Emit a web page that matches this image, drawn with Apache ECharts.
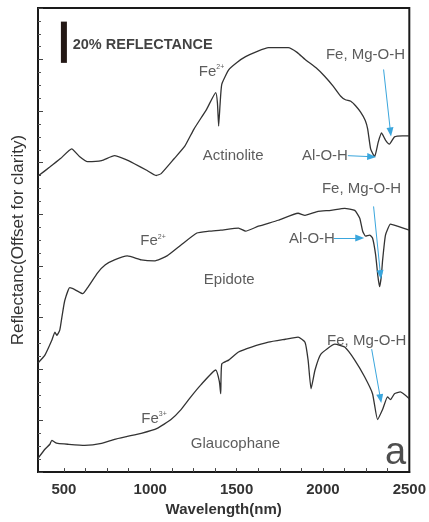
<!DOCTYPE html>
<html>
<head>
<meta charset="utf-8">
<script src="https://cdn.jsdelivr.net/npm/echarts@6/dist/echarts.min.js"></script>
<style>
  html, body { margin: 0; padding: 0; background: #fff; }
  #chart { width: 429px; height: 522px; }
</style>
</head>
<body>
<div id="chart"></div>
<script>
// Reflectance spectra, stacked with vertical offsets (units: % reflectance)
const actinolite = [
  [350,143.5],[420,148],[480,152],[545,156.7],[590,153],[637,150.5],[718,151],[793,153.4],
  [860,151.5],[908,149.5],[982,146.2],[1034,143.8],[1063,144.7],[1138,151.9],[1200,158],
  [1253,166.3],[1327,176],[1379,184],[1389,179],[1396,167.8],[1404,178],[1414,188],
  [1454,195],[1500,198.5],[1552,201.4],[1620,204],[1684,205.8],[1799,205.8],[1850,203.5],
  [1897,200],[1960,196],[2011,191.8],[2060,187],[2103,182.2],[2130,180.5],[2161,179.8],
  [2190,177.5],[2218,174.5],[2245,170.5],[2259,166.3],[2276,156.7],[2299,152.9],
  [2320,160],[2339,164.4],[2362,161],[2385,159],[2414,162.5],[2460,163],[2500,163]
];
const epidote = [
  [350,52.9],[390,56.7],[430,63.9],[448,67.8],[459,66.3],[476,68.8],[490,76],[505,83.2],
  [534,89.4],[563,88.5],[609,86.5],[637,89.4],[695,96.6],[740,100.5],[793,102.9],[867,104.8],
  [948,102.9],[1023,102.4],[1097,104.8],[1178,110.1],[1270,115.9],[1340,116.8],[1408,117.3],
  [1511,118.3],[1552,116.8],[1626,119.2],[1741,122.1],[1856,125.5],[1896,124.5],[1971,126.4],
  [2046,126.9],[2126,127.9],[2184,126.9],[2213,123.1],[2230,116.8],[2247,114.4],[2270,114.9],
  [2287,113.5],[2305,105.3],[2318,95],[2328,89.9],[2338,95],[2345,102.4],[2362,114.9],
  [2391,120.2],[2431,119.2],[2500,117.3]
];
const glaucophane = [
  [350,6.7],[390,11.1],[419,13.5],[430,15.4],[448,14.4],[465,13.9],[522,13.5],[620,13],
  [718,13.9],[793,15.9],[867,17.3],[948,18.8],[1040,21.2],[1120,25.5],[1178,30.3],[1235,36.5],
  [1293,42.3],[1379,49.5],[1400,44],[1408,38],[1414,52.4],[1454,54.3],[1511,58.2],[1586,60.6],
  [1684,63],[1782,64.4],[1856,65.4],[1896,63],[1914,54.3],[1931,40.4],[1954,49.5],[1988,57.2],
  [2069,62],[2126,60.6],[2184,54.3],[2241,46.2],[2287,38],[2316,25.5],[2345,30.3],[2374,36.5],
  [2391,35.1],[2414,38],[2448,38.9],[2500,35.6]
];

// Axis ticks and labels
const wavelengthLabels = [500, 1000, 1500, 2000, 2500];
const wavelengthTicks = [500, 625, 750, 875, 1000, 1125, 1250, 1375, 1500, 1625, 1750, 1875,
  2000, 2125, 2250, 2375];

// 20% reflectance scale bar
const scaleBar = [[500, 198.4], [500, 218.4]];

// Annotation text: [wavelength, reflectance, text]
const notes = [
  [551, 207.2, '{bold|20% REFLECTANCE}'],
  [1281, 194.2, '{n|Fe}{sup|2+}'],
  [1304, 153.4, 'Actinolite'],
  [2017, 202.4, 'Fe, Mg-O-H'],
  [1879, 153.4, 'Al-O-H'],
  [942, 112, '{n|Fe}{sup|2+}'],
  [1310, 93.3, 'Epidote'],
  [1994, 137.5, 'Fe, Mg-O-H'],
  [1804, 113, 'Al-O-H'],
  [948, 26, '{n|Fe}{sup|3+}'],
  [1235, 13.9, 'Glaucophane'],
  [2024, 63.5, 'Fe, Mg-O-H']
];

// Arrows pointing to absorption features: [x1, y1, x2, y2]
const arrows = [
  [2351, 195.2, 2391, 164.9],
  [2144, 153.4, 2282, 152.9],
  [2293, 128.8, 2333, 95.7],
  [2063, 113.5, 2213, 113.5],
  [2282, 59.6, 2333, 35.6]
];

const panelTag = [2420, 9, 'a'];

const FONT = '"Liberation Sans", Arial, sans-serif';
const INK = '#333';

const chart = echarts.init(document.getElementById('chart'), null, { renderer: 'canvas' });

function spectrum(name, data) {
  return {
    name, type: 'line', data, symbol: 'none', smooth: 0.15,
    lineStyle: { color: INK, width: 1.3 }, silent: true, z: 3
  };
}

chart.setOption({
  animation: false,
  backgroundColor: '#fff',
  grid: {
    left: 38, right: 17, top: 8, bottom: 46,
    show: true, borderColor: '#1a1a1a', borderWidth: 2
  },
  xAxis: {
    type: 'value', min: 350, max: 2500,
    name: 'Wavelength(nm)', nameLocation: 'middle', nameGap: 27,
    nameTextStyle: { fontFamily: FONT, fontSize: 15, fontWeight: 'bold', color: INK },
    axisLine: { show: true, lineStyle: { color: '#1a1a1a', width: 2 } },
    axisTick: { show: true, inside: true, length: 4, lineStyle: { color: '#444', width: 1 },
      customValues: wavelengthTicks },
    axisLabel: { customValues: wavelengthLabels, margin: 10, formatter: v => String(v),
      fontFamily: FONT, fontSize: 15, fontWeight: 'bold', color: INK },
    splitLine: { show: false }
  },
  yAxis: {
    type: 'value', min: 0, max: 225, interval: 25,
    name: 'Reflectanc(Offset for clarity)', nameLocation: 'middle', nameGap: 11,
    nameTextStyle: { fontFamily: FONT, fontSize: 17, color: INK },
    axisLine: { show: true, lineStyle: { color: '#1a1a1a', width: 2 } },
    axisTick: { show: true, inside: true, length: 5, lineStyle: { color: '#444', width: 1 } },
    minorTick: { show: true, splitNumber: 4, length: 3, lineStyle: { color: '#555', width: 1 } },
    axisLabel: { show: false },
    splitLine: { show: false }
  },
  series: [
    spectrum('Actinolite', actinolite),
    spectrum('Epidote', epidote),
    spectrum('Glaucophane', glaucophane),
    {
      name: 'scale', type: 'line', data: scaleBar, symbol: 'none', silent: true,
      lineStyle: { color: '#231815', width: 6, cap: 'butt' }, z: 4
    },
    {
      name: 'arrows', type: 'line', data: [], silent: true,
      markLine: {
        silent: true, symbol: ['none', 'triangle'], symbolSize: [7, 9],
        label: { show: false },
        lineStyle: { color: '#3aa6dd', width: 1, type: 'solid' },
        data: arrows.map(a => [{ coord: [a[0], a[1]] }, { coord: [a[2], a[3]] }])
      }
    },
    {
      name: 'notes', type: 'scatter', symbolSize: 0, silent: true, z: 5,
      data: notes.map(n => ({ value: [n[0], n[1]], text: n[2] })),
      label: {
        show: true, position: 'right', distance: 0,
        formatter: p => p.data.text,
        fontFamily: FONT, fontSize: 15, color: INK,
        rich: {
          n: { fontFamily: FONT, fontSize: 15, color: INK },
          sup: { fontFamily: FONT, fontSize: 7, color: INK, verticalAlign: 'top', padding: [0, 0, 8, 0] },
          bold: { fontFamily: FONT, fontSize: 14.5, fontWeight: 'bold', color: '#111' }
        }
      }
    },
    {
      name: 'tag', type: 'scatter', symbolSize: 0, silent: true, z: 5,
      data: [{ value: [panelTag[0], panelTag[1]] }],
      label: { show: true, position: 'inside', formatter: panelTag[2],
        fontFamily: FONT, fontSize: 38, color: '#222' }
    }
  ]
});
</script>
</body>
</html>
